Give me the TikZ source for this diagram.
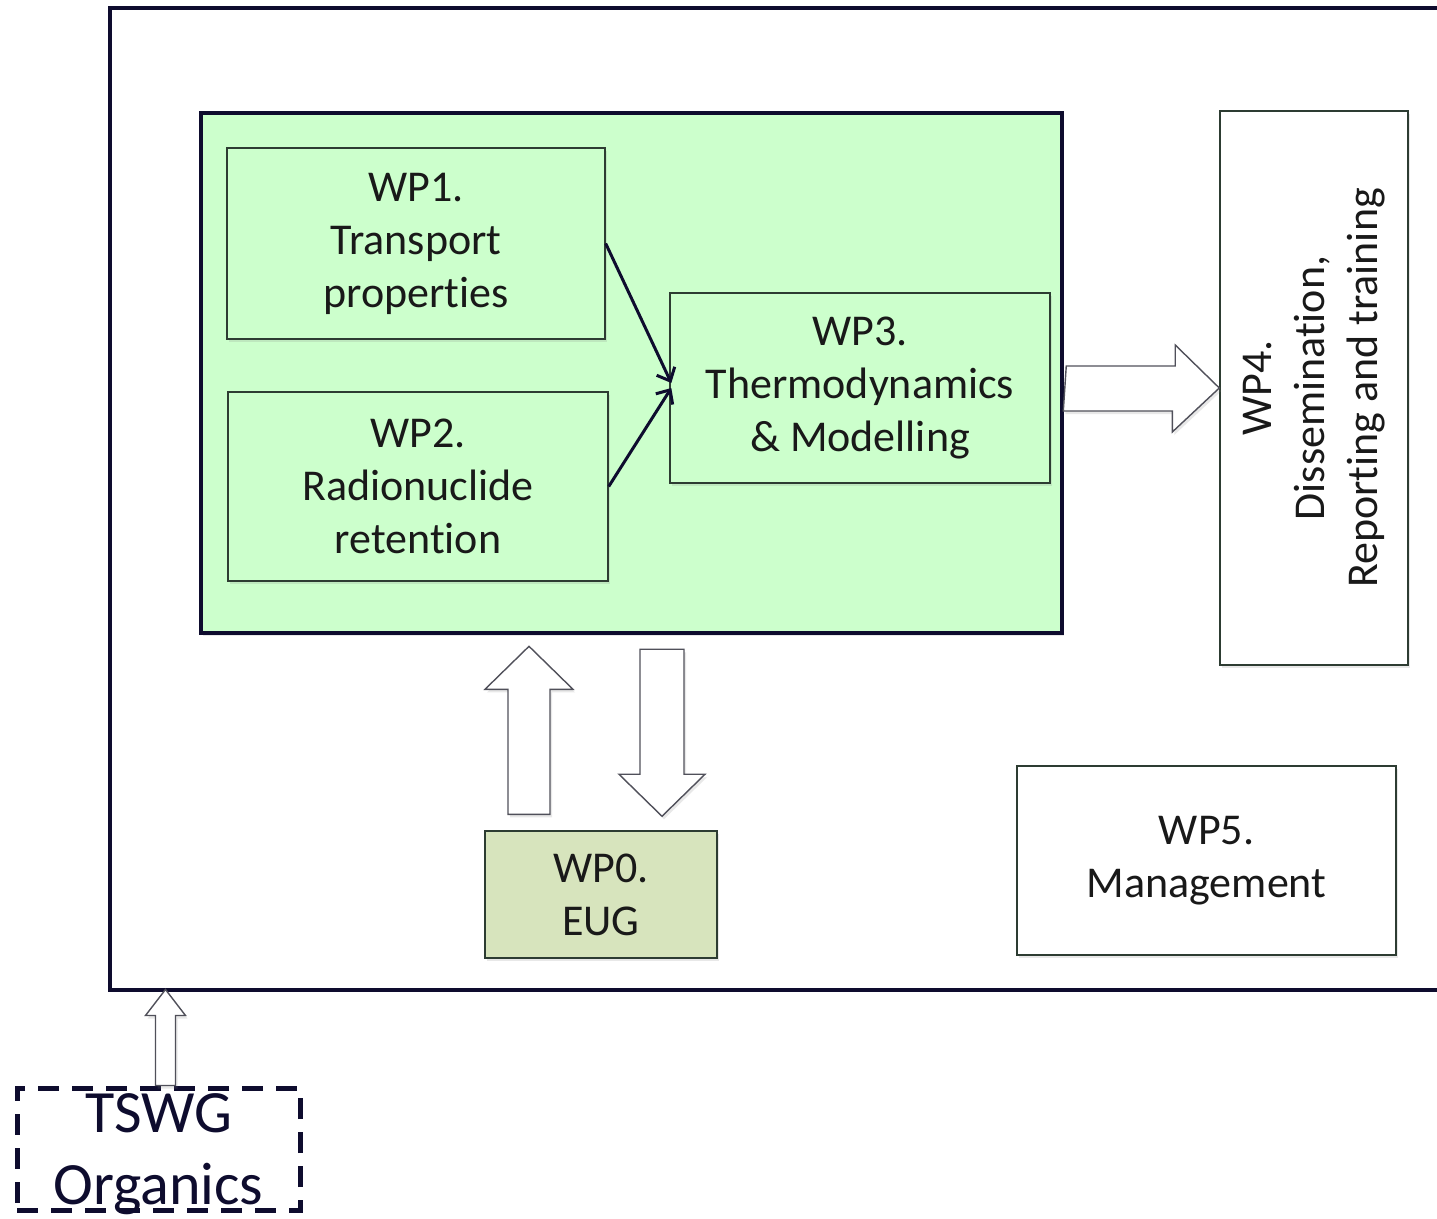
\documentclass[tikz,border=0pt]{standalone}
\usepackage{fontspec}
\setmainfont{Carlito}[Ligatures={NoCommon,NoContextual},RawFeature={-liga,-clig}]
\usetikzlibrary{calc,arrows.meta,shadows}
\definecolor{framenavy}{RGB}{14,12,46}
\definecolor{boxline}{RGB}{45,60,50}
\definecolor{corefill}{RGB}{204,255,204}
\definecolor{eugfill}{RGB}{215,228,189}
\definecolor{textgray}{RGB}{25,25,25}
\definecolor{arrowgray}{RGB}{80,80,90}
\begin{document}
\begin{tikzpicture}[x=1pt,y=-1pt,
  lightshadow/.style={drop shadow={shadow xshift=2pt,shadow yshift=-3pt,opacity=0.18}},
  box/.style={draw=boxline, line width=1.4pt, fill=white, align=center, inner sep=0pt,
    text=textgray, font=\fontsize{44}{53}\selectfont, lightshadow},
  greenbox/.style={box, fill=corefill},
  corebox/.style={draw=framenavy, line width=4.5pt, fill=corefill, lightshadow},
  frame/.style={draw=framenavy, line width=4.5pt},
  dashbox/.style={draw=framenavy, line width=5pt, dash pattern=on 21pt off 13pt, align=center,
    inner sep=0pt, text=framenavy, font=\fontsize{60}{72}\selectfont},
  blockarrow/.style={draw=arrowgray, line width=1.4pt, fill=white, line join=miter, lightshadow},
  thinarrow/.style={draw=framenavy, line width=3pt, -{Straight Barb[length=11pt,width=20pt]}}]
  \clip (0,0) rectangle (1437,1218);
  \draw[frame] (110,8) rectangle (1470,990);
  \node[corebox, minimum width=861pt, minimum height=520pt] (core) at (631.5,373) {};
  \node[greenbox, minimum width=378pt, minimum height=191pt] (wp1) at (416,243.5) {WP1.\\Transport\\properties};
  \node[greenbox, minimum width=380pt, minimum height=189pt] (wp2) at (418,486.5) {WP2.\\Radionuclide\\retention};
  \node[greenbox, minimum width=380pt, minimum height=190pt] (wp3) at (860,388) {WP3.\\Thermodynamics\\\& Modelling};
  \node[box, rotate=90, minimum width=554pt, minimum height=188pt] (wp4) at (1314,388) {WP4.\\Dissemination,\\Reporting and training};
  \node[box, minimum width=379pt, minimum height=189pt] (wp5) at (1206.5,860.5) {WP5.\\Management};
  \node[box, fill=eugfill, minimum width=232pt, minimum height=127pt] (wp0) at (601,894.5) {WP0.\\EUG};
  \node[dashbox, text depth=0pt, minimum width=283pt, minimum height=122pt] (tswg) at (158.5,1149) {TSWG\\Organics};
  \draw[thinarrow] (wp1.east) -- ($(wp3.west)+(2,-5)$);
  \draw[thinarrow] (wp2.east) -- ($(wp3.west)+(2,0)$);
  \draw[blockarrow] (core.east |- wp4.north) ++(2,-22) -- ++(109,0) -- ++(0,-21) -- (wp4.north)
    -- ++(-47,44) -- ++(0,-21) -- ++(-109,0) -- cycle;
  \draw[blockarrow] ($(wp0.north)+(-72,-16)$) ++(-21,0) -- ++(0,-125) -- ++(-23,0) -- ++(44,-43)
    -- ++(44,43) -- ++(-23,0) -- ++(0,125) -- cycle;
  \draw[blockarrow] ($(core.south)+(30.5,14)$) ++(-22,0) -- ++(0,125) -- ++(-21,0) -- ++(43,42)
    -- ++(43,-42) -- ++(-21,0) -- ++(0,-125) -- cycle;
  \draw[blockarrow] ($(tswg.north)+(7,0)$) ++(-10,0) -- ++(0,-70) -- ++(-10,0) -- ++(20,-26)
    -- ++(20,26) -- ++(-10,0) -- ++(0,70) -- cycle;
\end{tikzpicture}
\end{document}
